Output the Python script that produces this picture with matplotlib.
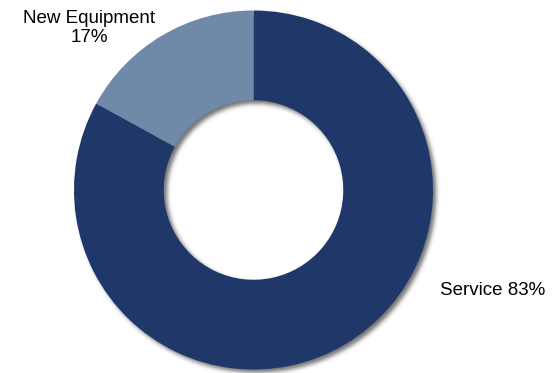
import matplotlib.pyplot as plt
import numpy as np

labels = ["Service", "New Equipment"]
shares = [83, 17]
colors = ["#1F3869", "#7089A9"]

fig = plt.figure(figsize=(5.55, 3.73), dpi=100)
ax = fig.add_axes([0, 0, 1, 1])

ring_width = 0.5
ax.pie(shares, colors=colors, startangle=90, counterclock=False,
       radius=1.0, wedgeprops=dict(width=ring_width, linewidth=0))

# soft drop shadow of the ring, offset to the lower right
n = 900
g = np.linspace(-1.25, 1.25, n)
xx, yy = np.meshgrid(g, g)
off = 0.018
rr = np.hypot(xx - off, yy + off)
mask = ((rr <= 1.0) & (rr >= 1.0 - ring_width)).astype(float)
step = g[1] - g[0]
sigma = 0.012 / step
k = np.arange(-int(4 * sigma), int(4 * sigma) + 1)
kern = np.exp(-0.5 * (k / sigma) ** 2)
kern /= kern.sum()
mask = np.apply_along_axis(lambda v: np.convolve(v, kern, mode="same"), 0, mask)
mask = np.apply_along_axis(lambda v: np.convolve(v, kern, mode="same"), 1, mask)
shadow = np.zeros((n, n, 4))
shadow[..., 3] = mask * 0.55
ax.imshow(shadow, extent=(-1.25, 1.25, -1.25, 1.25), origin="lower",
          zorder=0, interpolation="bilinear")

ax.text(-0.915, 0.90, f"{labels[1]}\n{shares[1]}%", ha="center", va="center",
        fontsize=13.5, family="Liberation Sans", linespacing=1.15)
ax.text(1.33, -0.56, f"{labels[0]} {shares[0]}%", ha="center",
        va="center", fontsize=13.5, family="Liberation Sans")

px = 179.5
ax.set_xlim(-253.5 / px, (555 - 253.5) / px)
ax.set_ylim(-(373 - 190) / px, 190 / px)
ax.set_aspect("auto")
ax.axis("off")

fig.savefig("out.png", dpi=100)
